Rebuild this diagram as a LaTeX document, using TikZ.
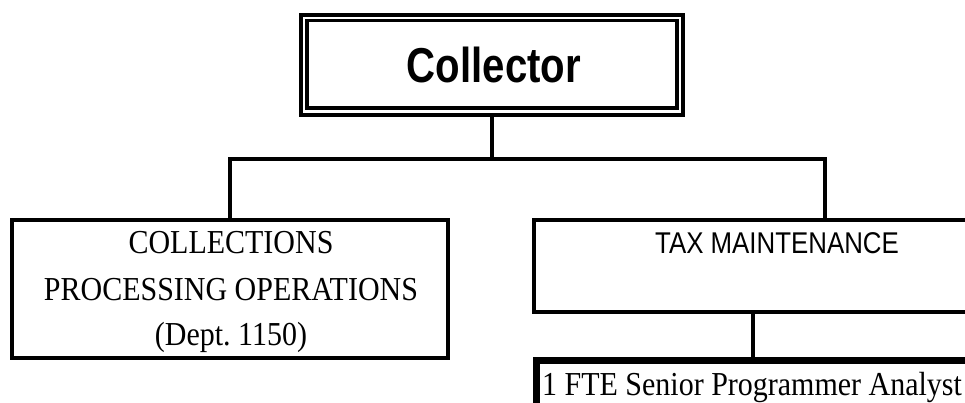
\documentclass[tikz,border=0pt]{standalone}
\usepackage{fontspec}
\newfontfamily\boxserif[FakeStretch=0.895]{Liberation Serif}
\newfontfamily\boxsans[FakeStretch=0.862]{Liberation Sans}
\newfontfamily\headsans[FakeStretch=0.82]{Liberation Sans}
\begin{document}
\begin{tikzpicture}[x=1pt,y=-1pt,
  frame/.style={draw=black,line width=3.6pt,rectangle,inner sep=0pt,fill=none},
  heavyframe/.style={draw=black,line width=7pt,rectangle,inner sep=0pt},
  link/.style={draw=black,line width=3.4pt},
  serifline/.style={inner sep=0pt,anchor=base,font=\boxserif\fontsize{33.5}{40}\selectfont},
  sansline/.style={inner sep=0pt,anchor=base,font=\boxsans\fontsize{30}{36}\selectfont},
  headline/.style={inner sep=0pt,anchor=base,font=\headsans\bfseries\fontsize{49}{56}\selectfont}]
\useasboundingbox (0,0) rectangle (965,402);
\clip (0,0) rectangle (965,402);

% Collector: double-ruled box
\node[frame,minimum width=382pt,minimum height=100pt] (colout) at (492,65) {};
\node[frame,minimum width=370pt,minimum height=87.5pt] (colin) at (492,64.25) {};
\node[headline] (coltext) at (494,82) {Collector};

% Second level boxes
\node[frame,line width=4pt,minimum width=436pt,minimum height=138pt] (cpo) at (230,289) {};
\node[serifline] (cpo1) at (231,253) {COLLECTIONS};
\node[serifline] (cpo2) at (231,300) {PROCESSING OPERATIONS};
\node[serifline] (cpo3) at (231,345) {(Dept.\ 1150)};

\node[frame,minimum width=486pt,minimum height=92pt] (tax) at (777,266) {};
\node[sansline] (taxtext) at (777,253) {TAX MAINTENANCE};

% Staff box below tax maintenance
\node[heavyframe,minimum width=504pt,minimum height=89pt] (staff) at (788,405) {};
\node[serifline,anchor=base west] (stafftext) at (542,395) {1 FTE Senior Programmer Analyst};

% Connectors
\coordinate (bus) at (492,159);
\coordinate (busright) at (825,159);
\draw[link] (colout.south) -- (bus);
\draw[link,line cap=rect] (cpo.north |- bus) -- (busright);
\draw[link] (cpo.north |- bus) -- (cpo.north);
\draw[link] (busright) -- (busright |- tax.north);
\draw[link] (tax.south -| 753,0) -- (staff.north -| 753,0);
\end{tikzpicture}
\end{document}
